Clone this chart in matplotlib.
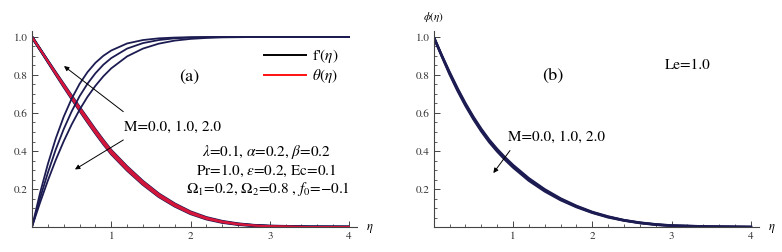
import matplotlib
matplotlib.use('Agg')
import matplotlib.pyplot as plt
from matplotlib.ticker import MultipleLocator

plt.rcParams['font.family'] = 'STIXGeneral'
plt.rcParams['mathtext.fontset'] = 'stix'

# eta grid the values were read at
eta = [0, 0.1, 0.2, 0.3, 0.4, 0.5, 0.6, 0.7, 0.8, 0.9, 1.0, 1.2, 1.4, 1.6, 1.8,
       2.0, 2.2, 2.4, 2.6, 2.8, 3.0, 3.5, 4.0]

# f'(eta) for M = 0, 1, 2
fp_M0 = [0, 0.126, 0.244, 0.353, 0.451, 0.539, 0.617, 0.685, 0.743, 0.793, 0.835,
         0.898, 0.939, 0.965, 0.981, 0.990, 0.995, 0.998, 0.999, 1.0, 1.0, 1.0, 1.0]
fp_M1 = [0, 0.149, 0.285, 0.408, 0.515, 0.608, 0.688, 0.754, 0.809, 0.854, 0.889,
         0.939, 0.968, 0.984, 0.993, 0.997, 0.999, 1.0, 1.0, 1.0, 1.0, 1.0, 1.0]
fp_M2 = [0, 0.176, 0.331, 0.466, 0.580, 0.675, 0.753, 0.815, 0.864, 0.901, 0.929,
         0.966, 0.984, 0.993, 0.997, 0.999, 1.0, 1.0, 1.0, 1.0, 1.0, 1.0, 1.0]

# theta(eta) for M = 0, 1, 2
th_M0 = [1.0, 0.936, 0.874, 0.812, 0.751, 0.690, 0.630, 0.571, 0.512, 0.456, 0.403,
         0.317, 0.240, 0.174, 0.122, 0.080, 0.050, 0.030, 0.017, 0.009, 0.005, 0.001, 0.0]
th_M1 = [1.0, 0.936, 0.872, 0.808, 0.745, 0.683, 0.622, 0.562, 0.503, 0.447, 0.394,
         0.308, 0.232, 0.167, 0.116, 0.075, 0.046, 0.027, 0.015, 0.008, 0.004, 0.0005, 0.0]
th_M2 = [1.0, 0.936, 0.870, 0.804, 0.739, 0.676, 0.614, 0.553, 0.494, 0.438, 0.385,
         0.299, 0.224, 0.160, 0.110, 0.070, 0.042, 0.024, 0.013, 0.007, 0.003, 0.0, 0.0]

# phi(eta) for M = 0, 1, 2
ph_M0 = [1.0, 0.905, 0.815, 0.730, 0.651, 0.580, 0.516, 0.459, 0.410, 0.366, 0.326,
         0.256, 0.198, 0.150, 0.111, 0.079, 0.055, 0.036, 0.023, 0.014, 0.008, 0.002, 0.0]
ph_M1 = [1.0, 0.903, 0.810, 0.724, 0.645, 0.574, 0.510, 0.453, 0.404, 0.360, 0.320,
         0.250, 0.193, 0.146, 0.108, 0.077, 0.053, 0.035, 0.022, 0.013, 0.007, 0.002, 0.0]
ph_M2 = [1.0, 0.901, 0.805, 0.718, 0.639, 0.568, 0.504, 0.447, 0.398, 0.354, 0.314,
         0.244, 0.188, 0.142, 0.105, 0.075, 0.051, 0.034, 0.021, 0.012, 0.006, 0.002, 0.0]

navy = '#1c1c52'
red = '#d8153a'

fig = plt.figure(figsize=(7.82, 2.52), dpi=100)
ax1 = fig.add_axes([0.0409, 0.0992, 0.4156, 0.7766])
ax2 = fig.add_axes([0.5546, 0.0992, 0.4158, 0.7766])


def style(ax):
    ax.set_xlim(0, 4.1)
    ax.set_ylim(0, 1.03)
    for s in ['top', 'right']:
        ax.spines[s].set_visible(False)
    for s in ['left', 'bottom']:
        ax.spines[s].set_color('#444444')
        ax.spines[s].set_linewidth(0.8)
    ax.set_xticks([1, 2, 3, 4])
    ax.set_xticklabels(['1', '2', '3', '4'])
    ax.set_yticks([0.2, 0.4, 0.6, 0.8, 1.0])
    ax.set_yticklabels(['0.2', '0.4', '0.6', '0.8', '1.0'])
    ax.xaxis.set_minor_locator(MultipleLocator(0.2))
    ax.yaxis.set_minor_locator(MultipleLocator(0.05))
    ax.tick_params(which='major', direction='in', length=4, width=0.7,
                   color='#444444', labelsize=8, labelcolor='#333333', pad=3)
    ax.tick_params(which='minor', direction='in', length=2, width=0.6, color='#444444')
    ax.text(4.22, -0.01, r'$\eta$', fontsize=9, va='center', ha='left', clip_on=False)


style(ax1)
style(ax2)

# panel (a)
for th in [th_M0, th_M1, th_M2]:
    ax1.plot(eta, th, color=navy, lw=2.0, solid_capstyle='butt')
for th in [th_M0, th_M1, th_M2]:
    ax1.plot(eta, th, color=red, lw=1.1)
for fp in [fp_M0, fp_M1, fp_M2]:
    ax1.plot(eta, fp, color=navy, lw=1.3)

h1, = ax1.plot([], [], color='black', lw=1.4, label=r"f'$(\eta)$")
h2, = ax1.plot([], [], color='#ff1010', lw=1.4, label=r'$\theta(\eta)$')
ax1.legend(handles=[h1, h2], loc='upper left', bbox_to_anchor=(0.715, 0.92),
           frameon=False, fontsize=11, handlelength=2.7, handletextpad=0.4,
           labelspacing=0.15, borderpad=0, borderaxespad=0)

ax1.text(1.99, 0.79, '(a)', fontsize=13, ha='center', va='center')
ax1.text(1.77, 0.525, 'M=0.0, 1.0, 2.0', fontsize=11, ha='center', va='center')
ax1.annotate('', xy=(0.404, 0.847), xytext=(1.152, 0.607),
             arrowprops=dict(arrowstyle='-|>', color='black', lw=0.7,
                             mutation_scale=7, shrinkA=0, shrinkB=0))
ax1.annotate('', xy=(0.542, 0.303), xytext=(1.152, 0.458),
             arrowprops=dict(arrowstyle='-|>', color='black', lw=0.7,
                             mutation_scale=7, shrinkA=0, shrinkB=0))
ax1.text(2.96, 0.395, r'$\lambda$=0.1, $\alpha$=0.2, $\beta$=0.2', fontsize=11,
         ha='center', va='center')
ax1.text(2.96, 0.295, r'Pr=1.0, $\varepsilon$=0.2, Ec=0.1', fontsize=11,
         ha='center', va='center')
ax1.text(2.98, 0.2, r'$\Omega_1$=0.2, $\Omega_2$=0.8 , $f_0$=$-$0.1', fontsize=11,
         ha='center', va='center')

# panel (b)
for ph in [ph_M0, ph_M1, ph_M2]:
    ax2.plot(eta, ph, color=navy, lw=1.8)

ax2.text(0.0, 1.105, r'$\phi(\eta)$', fontsize=8, ha='center', va='center', clip_on=False)
ax2.text(1.5, 0.794, '(b)', fontsize=13, ha='center', va='center')
ax2.text(3.2, 0.85, 'Le=1.0', fontsize=11, ha='center', va='center')
ax2.text(1.55, 0.475, 'M=0.0, 1.0, 2.0', fontsize=11, ha='center', va='center')
ax2.annotate('', xy=(0.752, 0.284), xytext=(0.962, 0.4025),
             arrowprops=dict(arrowstyle='-|>', color='black', lw=0.7,
                             mutation_scale=7, shrinkA=0, shrinkB=0))

fig.savefig('out.png', dpi=100)
